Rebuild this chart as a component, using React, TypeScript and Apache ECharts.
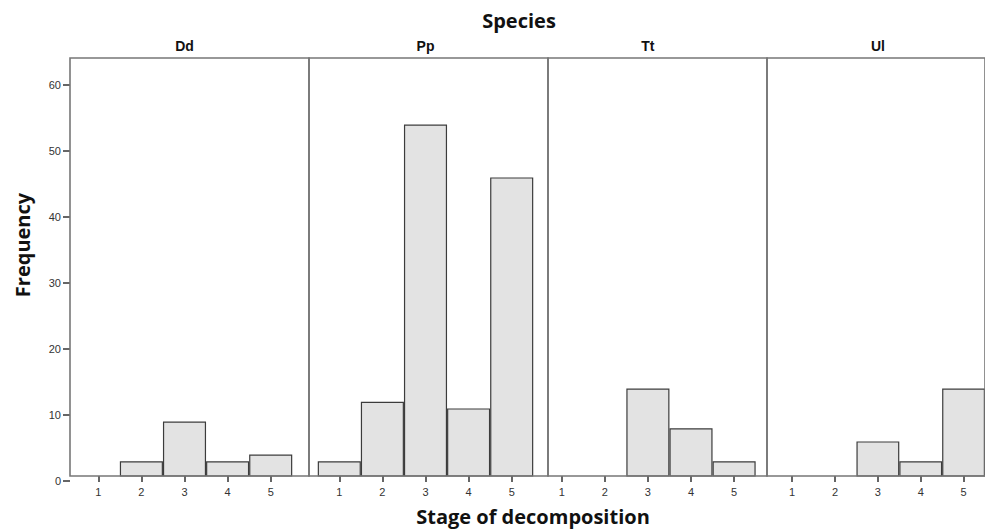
import React, { useEffect, useRef } from "react";
import * as echarts from "echarts";

const stages = ["1", "2", "3", "4", "5"];
const species = ["Dd", "Pp", "Tt", "Ul"];
const ddValues = [0, 3, 9, 3, 4];
const ppValues = [3, 12, 54, 11, 46];
const ttValues = [0, 0, 14, 8, 3];
const ulValues = [0, 0, 6, 3, 14];
const seriesValues = [ddValues, ppValues, ttValues, ulValues];

const yMin = 0;
const yMax = 60;
const yStep = 10;

// layout (pixels)
const frames = [
  { left: 70, width: 239 },
  { left: 309, width: 239 },
  { left: 548, width: 219 },
  { left: 767, width: 239 },
];
const dataLefts = [76.75, 317.75, 540.15, 770.75];
const unit = 43.1;
const panelTop = 58;
const panelBottom = 476;
const zeroY = 481;
const sixtyY = 85;

const tickFont = "'Liberation Sans', Arial, sans-serif";
const titleFont = "'Open Sans', 'Noto Sans', sans-serif";

export default function App() {
  const ref = useRef<HTMLDivElement>(null);
  useEffect(() => {
    if (!ref.current) return;
    const chart = echarts.init(ref.current, undefined, { renderer: "svg" });
    const pxPerUnit = (zeroY - sixtyY) / (yMax - yMin);
    const panelMin = (zeroY - panelBottom) / pxPerUnit;
    const panelMax = (zeroY - panelTop) / pxPerUnit;

    const grids: any[] = [];
    const xAxes: any[] = [];
    const yAxes: any[] = [];
    const series: any[] = [];

    // grid 0: y axis
    grids.push({ left: 70, top: sixtyY, width: 10, height: zeroY - sixtyY, containLabel: false });
    xAxes.push({ type: "value", gridIndex: 0, show: false });
    yAxes.push({
      type: "value",
      gridIndex: 0,
      min: yMin,
      max: yMax,
      interval: yStep,
      axisLine: { show: false },
      splitLine: { show: false },
      axisTick: { show: true, length: 7, lineStyle: { color: "#333", width: 1.5 } },
      axisLabel: { fontSize: 11, color: "#333", margin: 9, fontFamily: tickFont },
    });

    // frames 1..4
    frames.forEach((f, i) => {
      grids.push({
        left: f.left,
        top: panelTop,
        width: f.width,
        height: panelBottom - panelTop,
        show: true,
        borderColor: "#777777",
        borderWidth: 1.6,
        backgroundColor: "transparent",
        z: 3,
      });
      xAxes.push({ type: "value", gridIndex: i + 1, show: false, min: 0, max: 1 });
      yAxes.push({ type: "value", gridIndex: i + 1, show: false, min: 0, max: 1 });
    });

    // data grids 5..8
    species.forEach((sp, i) => {
      const gi = grids.length;
      grids.push({
        left: dataLefts[i],
        top: panelTop,
        width: unit * stages.length,
        height: panelBottom - panelTop,
      });
      const xi = xAxes.length;
      xAxes.push({
        type: "category",
        gridIndex: gi,
        data: stages,
        position: "bottom",
        boundaryGap: true,
        axisLine: { show: false },
        axisTick: { show: true, alignWithLabel: true, length: 6, lineStyle: { color: "#333", width: 1.5 } },
        axisLabel: { fontSize: 11, color: "#333", margin: 10, fontFamily: tickFont },
        splitLine: { show: false },
      });
      xAxes.push({
        type: "category",
        gridIndex: gi,
        data: stages,
        position: "top",
        axisLine: { show: false },
        axisTick: { show: false },
        axisLabel: { show: false },
        name: sp,
        nameLocation: "middle",
        nameGap: 5,
        nameTextStyle: { fontSize: 14, fontWeight: "bold", color: "#111", fontFamily: tickFont },
      });
      const yi = yAxes.length;
      yAxes.push({ type: "value", gridIndex: gi, show: false, min: panelMin, max: panelMax });
      series.push({
        type: "bar",
        name: sp,
        xAxisIndex: xi,
        yAxisIndex: yi,
        barCategoryGap: "0%",
        data: seriesValues[i].map((v) => (v === 0 ? "-" : v)),
        itemStyle: { color: "#e3e3e3", borderColor: "#3c3c3c", borderWidth: 1.2 },
        z: 2,
      });
    });

    chart.setOption({
      animation: false,
      backgroundColor: "#ffffff",
      grid: grids,
      xAxis: xAxes,
      yAxis: yAxes,
      series,
      graphic: [
        {
          type: "text",
          x: 519,
          y: 20,
          style: {
            text: "Species",
            font: `bold 20px ${titleFont}`,
            fill: "#111",
            textAlign: "center",
            textVerticalAlign: "middle",
          },
        },
        {
          type: "text",
          x: 533,
          y: 516,
          style: {
            text: "Stage of decomposition",
            font: `bold 20px ${titleFont}`,
            fill: "#111",
            textAlign: "center",
            textVerticalAlign: "middle",
          },
        },
        {
          type: "text",
          x: 22,
          y: 245,
          rotation: Math.PI / 2,
          style: {
            text: "Frequency",
            font: `bold 20px ${titleFont}`,
            fill: "#111",
            textAlign: "center",
            textVerticalAlign: "middle",
          },
        },
      ],
    });
    return () => chart.dispose();
  }, []);
  return (
    <div
      ref={ref}
      style={{ position: "fixed", left: 0, top: 0, width: 985, height: 530, background: "#fff" }}
    />
  );
}
